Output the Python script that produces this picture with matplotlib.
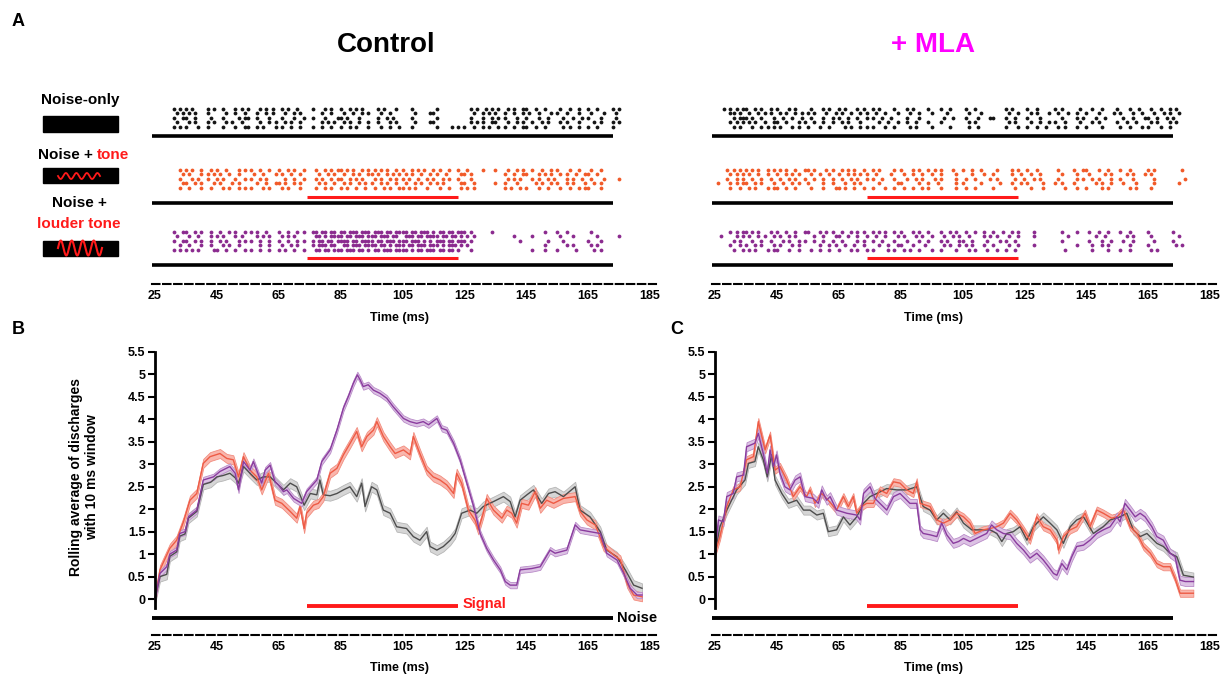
import numpy as np
import matplotlib.pyplot as plt
from matplotlib.patches import Rectangle

plt.rcParams['font.family'] = ['Liberation Sans', 'DejaVu Sans']
plt.rcParams['font.weight'] = 'bold'

# ---------------- data ----------------
time_ticks = [25, 45, 65, 85, 105, 125, 145, 165, 185]
rate_ticks = [0, 0.5, 1, 1.5, 2, 2.5, 3, 3.5, 4, 4.5, 5, 5.5]
rate_labels = ['0', '0.5', '1', '1.5', '2', '2.5', '3', '3.5', '4', '4.5', '5', '5.5']
signal_on, signal_off = 74, 123
noise_on, noise_off = 24, 173
raster_start = 25  # ms of the first character in each raster row (1 char = 1 ms)

# spike rasters, 5 trials each, 'x' = spike in that 1 ms bin
ctrl_noise = [
    "......x.x. x.x....x.x ..x...x.x. x...x.x.x. .x.x..x... .x...x.x.. x..x.x.x.. ..x.x...x. ...x...... .x........ ..x.x..x.x .x..x.x..x x..x..x... .x..x..x.. x..x....x. x.........",
    ".......x.x .x.x...x.. ...x..x..x ...x..x.x. ..x..x.x.. ....x..x.. .x..x..x.x ...x..x... ....x....x x......... ...x..x.x. x..x..x..x .x..x...x. x..x...x.. .x...x...x ..........",
    "......x..x x..x....x. ..x....x.x x..x...x.. .x...x..x. .x...x...x x.x...x... ..x..x.x.. ...x...... .x........ ..x...x..x .x.x...x.. x...x..x.. ..x..x..x. x...x....x ..........",
    ".......x.. .x.x...x.x ...x.x..x. ....x..x.x ..x.x..x.. ....x.x.x. .x.x..x..x ..x...x.x. ....x....x x......... ..x.x.x..x x...x..x.x ..x..x.x.. .x.x...x.. ..x.x...x. x.........",
    "......x.x. x...x..x.. ..x...x..x x..x.x...x .x..x..x.. .x..x..x.. x..x.x...x ...x..x..x ...x...... .x....x.x. x..x..x.x. .x.x..x..x x..x..x... ..x.x..x.. x..x....x. ..........",
]
ctrl_tone = [
    "........x. x.x..x..x. x..x...x.x .x..x..x.. x..x.x..x. ..x..x.x.x x.x.x..x.x .x.x.x..x. x..x.x.x.. x.x..x..x. .x....x... x...x..x.x ..x..x..x. x...x..x.. .x..x..... ..........",
    ".........x .x...x.x.x .x..x..x.. ..x..x...x .x..x..x.. ...x..x.x. .x..x.x..x x.x..x.x.x .x.x..x..x .x..x....x x.x....... ...x..x..x x...x.x.x. .x.x..x..x x..x...... ..........",
    "........x. ..x.x..x.. x.x...x..x .x..x.x... ..x..x..x. ..x.x..x.x x..x.x.x.. .x.x..x.x. x.x..x..x. x..x.x..x. ..x....... ....x.x.x. ..x.x..x.x ...x.x..x. .x...x.... x.........",
    ".........x x..x.x...x .x...x.x.. ...x..x..x x.x..x.x.. ...x.x..x. .x.x..x.x. x..x.x..x. .x..x.x..x .x.x.....x x..x...... x..x...x.. ...x.x..x. x..x.x...x ..x.x..... ..........",
    "........x. .x...x..x. ..x.x..x.x .x...x.x.. .x.x...x.. ..x..x.x.. x.x..x..x. .x..x.x..x x.x.x...x. ..x..x...x .x.x...... ...x.x..x. x...x..x.. .x..x..x.x x...x..... ..........",
]
ctrl_loud = [
    "......x..x x..x.x..x. .x..x.x..x .x.x..x... x..x..x.x. .xx.xx.xx. xx.xxx.xxx .xxx.xx.xx xx.xx.xxx. x.xx.xx.xx x.x......x .......... ......x... x..x...... .x........ ..........",
    ".......x.. .x..x...x. x.x...x.x. ...x.x.x.. .x.x.x.... ..xx.x.xxx x.xx.xxx.x xx.xxx.xx. .xxx.xx.xx xx.xx.xx.x .x.x...... ......x... ..x....... .x...x.... ...x...... x.........",
    "......x..x x..x.x..x. .x.x...x.x .x..x..x.. x..x..x.x. .x.xx.xx.x xxx.xx.xxx x.xx.xxx.x xx.xxx.x.x .xxx.xx.xx x.x....... ........x. .......x.. ..x....... x...x..... ..........",
    "........x. .x...x..x. ..x.x..x.. ....x..x.. .x..x.x... .x.xxx.xx. .xx.xxx.xx xx.xx.x.xx x.xx.xxx.x xx.x.xxx.x .x........ .......... ......x... ...x.x.... .x.x...... ..........",
    "......x.x. x.x.x....x x..x..x..x .x..x..x.. x.x..x..x. ..xx.xx.xx x.xxx.xx.x .xx.xxx.xx xx.x.xx.xx x.xx.xx.x. ..x....... .......... ..x...x... x.....x... ..x.x..... ..........",
]
mla_noise = [
    "...x.x.x.x x..x.x..x. x...x.x... .x...x.x.. x.x...x.x. .x.x....x. ..x.x....x ...x..x... .x..x..... ....x.x... .x..x..... x.x.....x. ..x..x.... x...x..x.. .x..x..x.x ..........",
    ".....xx.x. .x..x.x.x. .x.x..x.x. x.x...x..x .x..x..x.x ..x..x...x ...x..x... x....x.... ..x...x... .....x..x. ..x.x...x. .x..x..x.. x...x....x .x...x..x. ..x..x.x.. x.........",
    "......x.xx x.x..x...x ..x..x..x. .x...x..x. x..x..x..x .x..x..x.. ..x...x... ....x..x.. .x...x...x x...x..x.. .x...x.... ..x....x.x ...x..x... ..x..x...x x..x..x.x. ..........",
    ".....x.x.x .x.x..x..x x..x...x.x ..x..x..x. .x.x...x.. ...x..x..x ..x..x...x ...x...... ..x.x..... .....x.x.. ..x..x..x. x..x....x. ..x.x..... x..x..x... .x.x...x.x ..........",
    "......x.x. ..x..x.x.x .x...x.x.. x...x..x.. ..x.x..x.x .x...x..x. ...x.x.... x.....x... ..x..x.... ....x...x. .x..x..x.. .x.x...x.. x....x.... .x..x...x. x...x..x.. ..........",
]
mla_tone = [
    "....x.x.x. x.x.x..x.x .x.x..x..x x.x...x.x. .x.x.x..x. .x.x....x. x...x.x..x .x.x...x.. x..x..x... .x....x.x. .x..x..... .x....x..x x...x..x.. .x..x..... x.x....... .x........",
    ".....x.x.x .x..x..x.. x..x.x.x.. .x..x..x.. x..x.x.x.x ..x....x.. .x..x..x.. x..x....x. ...x...x.. x.....x..x ..x..x.... ..x....x.. .x....x.x. ...x.x...x .x........ ..........",
    "....x..x.x ..x..x..x. .x..x.x..x ..x..x..x. .x..x.x..x .x..x...x. ..x..x.x.. .x.x....x. .x..x....x .x.....x.. x..x.x.... .x.....x.x ..x.x...x. .x...x.... ..x....... ..x.......",
    ".x...x.x.x x..x.x...x ..x..x.x.. x....x..x. ..x..x.x.. ...x.....x x.....x..x ..x.....x. x.....x... ..x...x..x .x....x... x.x...x... ...x.x..x. ..x...x... ..x....... x.........",
    ".....x..x. .x.x...x.x x..x..x... .x...x...x x.x..x..x. .x...x..x. .x..x..x.x ...x....x. .x..x..... x......x.. ..x...x... ...x...x.. x....x.x.. ....x.x... .x........ ..........",
]
mla_loud = [
    ".....x.x.x x.x.x...x. x..x..x..x x...x.x.x. .x..x.x.x. .x.x.x..x. x...x.x..x ...x..x.x. .x..x..x.. x..x..x.x. ...x...... ..x....x.. .x..x..x.. .x..x..... x.......x. ..........",
    "..x....x.x .x..x.x..x .x..x.x... ..x..x...x x..x..x..x ..x..x...x .x...x.x.. x...x..x.x ..x....x.x .x...x..x. ...x...... ....x..... ...x..x... ...x.x.... .x........ x.........",
    "......x.x. ..x..x..x. ..x.x..x.x ..x..x..x. .x....x.x. .x..x...x. ..x...x..x ...x.x...x x..x....x. ..x.x..x.. .......... ..x....... .x...x..x. ..x..x.... ..x.....x. ..........",
    ".....x..x. x..x.x...x .x...x.x.. ....x..x.x ..x..x..x. ...x..x..x x...x...x. ....x.x..x .x.x...x.. x....x..x. ...x...... .......x.. ..x..x.x.. ....x..... x........x .x........",
    "......x..x .x.x...x.x x...x..x.. .x..x..x.. x...x.x..x .x....x.x. .x.x..x... x..x....x. ..x.x...x. .x..x..x.. .......... ...x...... ..x....x.. .x..x..... .x.x...... ..........",
]

# rolling-average curves (time in ms, discharges per 10 ms window) and band half-widths
b_noise_t = [25, 26.6, 28.8, 29.8, 32, 33, 34.7, 35.8, 38.5, 40.6, 43, 45, 47, 49.2, 50.9, 52, 53.6, 55.7, 57.9, 60,
             62.2, 64, 66.5, 68.7, 70.8, 73.2, 75.2, 77.3, 78.3, 79.4, 81.6, 83.8, 85.9, 88, 90.2, 91.8, 92.9, 95, 96.7, 98.8,
             101, 103.1, 106.3, 108.5, 110.6, 112.8, 113.9, 116.1, 118.2, 120.4, 122, 124.1, 126.8, 129, 131.1, 134.4, 137.6,
             139.8, 141.4, 143, 145.2, 147.3, 150, 152.2, 154.3, 157, 160.8, 162.4, 165.6, 168.9, 171, 174.3, 177, 179.7, 182.4]
b_noise_v = [0, 0.5, 0.55, 0.95, 1.05, 1.4, 1.45, 1.8, 1.95, 2.55, 2.6, 2.72, 2.75, 2.8, 2.7, 2.58, 2.95, 2.8, 2.65, 2.72,
             2.72, 2.6, 2.43, 2.58, 2.5, 2.09, 2.35, 2.32, 2.65, 2.32, 2.3, 2.35, 2.43, 2.5, 2.28, 2.58, 2.06, 2.5, 2.43, 1.98,
             1.91, 1.61, 1.57, 1.39, 1.31, 1.5, 1.17, 1.09, 1.17, 1.31, 1.46, 1.91, 1.98, 1.91, 2.06, 2.17, 2.28,
             2.17, 1.83, 2.2, 2.32, 2.43, 2.13, 2.35, 2.39, 2.28, 2.5, 1.98, 1.83, 1.5, 1.09, 0.94, 0.65, 0.31, 0.24]
b_tone_t = [25, 26.6, 29.8, 32, 34.2, 36.3, 38.5, 40.6, 42.8, 46, 48.2, 50.3, 52, 53.6, 55.7, 57.9, 59.5, 61.7, 63.8, 66,
            68.7, 70.8, 71.9, 73.2, 74, 76.2, 77.8, 79.4, 81.6, 83.8, 85.9, 88.1, 90.2, 91.8, 93.5, 95.6, 96.7, 98.8, 101,
            102.6, 105.3, 107.4, 108.5, 110.6, 112.8, 114.9, 117.1, 119.3, 121.5, 122.5, 124.1, 126.3, 128.4, 129.5, 131.1,
            132.2, 134.4, 137.1, 138.7, 140.3, 141.9, 143.5, 145.7, 147.9, 149.5, 151.6, 153.8, 157, 160.8, 162.4, 164.6,
            167.3, 170, 173.2, 175.4, 177.6, 179.7, 182.4]
b_tone_v = [0, 0.65, 1.13, 1.31, 1.72, 2.2, 2.35, 3.02, 3.17, 3.24, 3.13, 3.1, 2.72, 3.17, 2.87, 2.72, 2.43, 2.8, 2.2, 2.13,
            1.95, 1.8, 2.06, 1.57, 1.91, 2.09, 2.13, 2.28, 2.8, 2.91, 3.21, 3.47, 3.73, 3.39, 3.62, 3.76, 3.95, 3.62, 3.39,
            3.24, 3.32, 3.21, 3.62, 3.24, 2.87, 2.72, 2.65, 2.54, 2.35, 2.8, 2.58, 1.98, 1.76, 1.54, 1.91,
            2.24, 1.98, 1.8, 1.98, 1.91, 1.69, 2.13, 2.09, 2.39, 2.02, 2.2, 2.13, 2.24, 2.28, 1.95, 1.76,
            1.65, 1.17, 0.98, 0.87, 0.35, 0.09, 0.05]
b_loud_t = [25, 26.6, 28.8, 29.8, 32, 33, 34.7, 35.8, 38.5, 40.6, 43.9, 46, 49.2, 50.9, 52, 53.6, 55.7, 56.8, 59.5, 60.6,
            62.2, 63.8, 64.9, 66.5, 67.6, 69.8, 72.4, 74, 77.3, 78.9, 81.6, 83.8, 85.9, 87.5, 89.1, 90.4, 91.3, 92.3, 93.9,
            95.6, 97.7, 99.9, 102, 105.3, 107.4, 109.6, 111.7, 113.4, 116.1, 117.7, 119.3, 121.5, 123.6, 125.8, 128, 130.1,
            132.2, 134.4, 136.6, 138.2, 139.8, 141.9, 143, 146.8, 149.5, 152.7, 154.3, 158.1, 160.8, 162.4, 165.6, 168.9,
            171, 174.3, 176.5, 178.6, 180.8, 182.4]
b_loud_v = [0, 0.57, 0.72, 1.0, 1.09, 1.46, 1.5, 1.83, 1.98, 2.65, 2.72, 2.84, 2.95, 2.8, 2.43, 3.06, 2.87, 3.06, 2.58, 2.87,
            2.98, 2.61, 2.54, 2.39, 2.43, 2.24, 2.13, 2.39, 2.65, 3.06, 3.32, 3.76, 4.25, 4.51, 4.8, 4.99, 4.88, 4.73, 4.77,
            4.65, 4.58, 4.47, 4.28, 4.02, 3.95, 3.91, 3.95, 3.88, 4.02, 3.8, 3.76, 3.47, 3.1, 2.58, 2.06, 1.46,
            1.13, 0.87, 0.65, 0.39, 0.31, 0.31, 0.65, 0.68, 0.72, 1.09, 1.02, 1.09, 1.65, 1.54, 1.5, 1.46,
            1.02, 0.87, 0.57, 0.24, 0.09, 0.09]
b_sem = [0.11, 0.1, 0.07]

c_noise_t = [25, 26.6, 28.8, 32, 34.7, 35.8, 37.9, 39, 40.6, 41.9, 43.3, 44.4, 46.6, 48.7, 51.4, 53.6, 55.7, 57.9, 60, 61.6,
             64.3, 66.5, 68.6, 70.8, 73, 75.1, 77.3, 80.5, 83.7, 87, 90.2, 92.3, 94.5, 96.7, 98.8, 101, 103.1, 105.3, 108,
             110.7, 113.9, 116.1, 117.7, 119.3, 121.4, 123.6, 125.8, 127.9, 131.1, 133.3, 135.5, 137.6, 139.8, 141.9, 144.1,
             147.3, 150.5, 152.7, 155.9, 158.1, 160.2, 162.4, 164.6, 167.8, 169.9, 172.1, 174.3, 176.4, 179.6]
c_noise_v = [1.02, 1.61, 1.98, 2.43, 2.65, 3.02, 3.06, 3.39, 3.1, 2.72, 3.21, 2.65, 2.35, 2.13, 2.2, 1.98, 1.98, 1.87, 1.91, 1.5,
             1.54, 1.83, 1.65, 1.83, 2.13, 2.28, 2.35, 2.46, 2.43, 2.43, 2.5, 2.06, 1.98, 1.76, 1.91, 1.76, 1.94, 1.69, 1.54,
             1.54, 1.54, 1.46, 1.28, 1.46, 1.5, 1.61, 1.31, 1.61, 1.83, 1.69, 1.54, 1.24, 1.61, 1.76, 1.83,
             1.46, 1.61, 1.76, 1.83, 1.91, 1.54, 1.39, 1.46, 1.24, 1.17, 1.02, 0.94, 0.53, 0.49]
c_tone_t = [25, 26.6, 28.8, 30.9, 33.1, 35.2, 37.4, 39, 41.2, 42.8, 44.4, 46, 48.2, 50.3, 52.5, 54.6, 55.7, 57.3, 59.5, 61.6,
            64.3, 66.5, 68.1, 69.7, 70.8, 72.4, 74, 76.2, 78.3, 80.5, 82.7, 84.8, 87, 89.1, 90.2, 91.3, 94.5, 96.7, 98.8, 101,
            103.1, 105.3, 107.4, 109.1, 111.7, 113.9, 116.1, 118.2, 120.4, 122.5, 124.7, 126.8, 129, 131.1, 133.3, 135.5,
            136, 137.6, 139.8, 141.9, 144.6, 146.2, 148.4, 150.5, 153.2, 154.9, 157, 159.2, 161.4, 163.5, 165.7, 167.8,
            169.9, 172.1, 173.7, 175.3, 179.6]
c_tone_v = [1.02, 1.39, 2.06, 2.43, 2.5, 3.1, 3.17, 3.95, 3.32, 3.65, 2.87, 2.95, 2.65, 2.28, 2.5, 2.28, 2.43, 2.13, 2.35, 2.2,
            1.98, 2.28, 2.06, 2.28, 1.91, 2.06, 2.13, 2.13, 2.43, 2.35, 2.61, 2.58, 2.43, 2.35, 2.61, 2.13, 2.06, 1.76, 1.69,
            1.76, 1.91, 1.83, 1.69, 1.46, 1.54, 1.57, 1.61, 1.69, 1.91, 1.76, 1.54, 1.31, 1.83, 1.61, 1.54, 1.31,
            1.09, 1.39, 1.54, 1.61, 1.91, 1.61, 1.98, 1.91, 1.8, 1.83, 1.98, 1.61, 1.46, 1.17, 1.02, 0.79,
            0.72, 0.72, 0.46, 0.13, 0.13]
c_loud_t = [25, 26.1, 27.7, 28.8, 30.9, 32, 34.2, 35.2, 37.9, 39, 40.6, 41.9, 42.8, 43.9, 44.9, 46, 47.6, 49.2, 50.9, 52.5,
            54.1, 56.8, 58.4, 59.5, 61.1, 62.2, 64.3, 67.6, 70.8, 71.9, 73, 75.1, 76.7, 78.3, 80.5, 82.7, 84.8, 88, 90.2,
            91.3, 92.3, 94.5, 96.7, 98.3, 99.9, 102, 103.7, 105.3, 107.4, 110.7, 112.8, 114.4, 116.1, 118.2, 120.4, 122.5,
            124.7, 126.8, 129, 131.1, 132.8, 134.4, 135.5, 137.1, 138.7, 140.3, 141.9, 144.1, 146.2, 148.4, 150.5, 152.7,
            154.9, 155.9, 157.5, 159.2, 160.8, 162.4, 164, 166.2, 167.8, 169.9, 172.1, 173.7, 175.3, 177, 179.6]
c_loud_v = [1.02, 1.76, 1.72, 2.28, 2.35, 2.72, 2.76, 3.39, 3.47, 3.69, 3.24, 2.8, 3.32, 2.95, 3.21, 2.8, 2.5, 2.43, 2.65, 2.72,
            2.28, 2.24, 2.13, 2.43, 2.2, 2.28, 1.98, 1.91, 1.87, 1.76, 2.35, 2.5, 2.24, 2.13, 1.98, 2.28, 2.35, 2.13, 2.13,
            1.54, 1.46, 1.43, 1.39, 1.69, 1.43, 1.24, 1.28, 1.35, 1.28, 1.39, 1.46, 1.65, 1.54, 1.46, 1.43, 1.24,
            1.09, 0.91, 1.02, 0.87, 0.72, 0.57, 0.53, 0.79, 0.65, 0.94, 1.17, 1.2, 1.31, 1.46, 1.54, 1.61,
            1.83, 1.72, 2.13, 1.98, 1.83, 1.91, 1.83, 1.61, 1.39, 1.31, 1.02, 0.94, 0.42, 0.39, 0.39]
c_sem = [0.1, 0.08, 0.1]

# ---------------- styles ----------------
raster_colors = ['#151515', '#f15a29', '#8b2b8f']
line_colors = ['#4d4d4d', '#ee5b45', '#8a3c9e']
band_colors = ['#d6d6d6', '#f9b6ad', '#dcc2e4']
band_edges = ['#b5b5b5', '#f28c7e', '#b98bc8']
red = '#ff1a1a'

W, H = 1228, 679
PPM = 3.094  # pixels per ms

fig = plt.figure(figsize=(W / 100, H / 100), dpi=100)
over = fig.add_axes([0, 0, 1, 1])
over.set_xlim(0, W)
over.set_ylim(H, 0)
over.axis('off')


def px_axes(l, t, r, b):
    ax = fig.add_axes([l / W, 1 - b / H, (r - l) / W, (b - t) / H])
    ax.patch.set_alpha(0)
    return ax


def time_axes(x0, top, bottom):
    ax = px_axes(x0 - 3, top, x0 + 501, bottom)
    ax.set_xlim(25 - 3 / PPM, 25 + 501 / PPM)
    for s in ['top', 'right', 'left']:
        ax.spines[s].set_visible(False)
    ax.spines['bottom'].set_linewidth(1.5)
    ax.spines['bottom'].set_linestyle((0, (3.6, 1.7)))
    ax.set_xticks(time_ticks)
    ax.set_xticklabels([str(t) for t in time_ticks])
    ax.tick_params(axis='x', length=0, pad=4.5, labelsize=9)
    return ax


def spikes(rows):
    ts, ks = [], []
    for k, row in enumerate(rows):
        line = ''.join(g.ljust(10, '.')[:10] for g in row.split())
        for i, c in enumerate(line):
            if c == 'x':
                ts.append(raster_start + i)
                ks.append(k)
    return np.array(ts), np.array(ks)


# ---------------- panel A: rasters ----------------
row_tops = [109, 170, 232]
black_bar_y = [136, 203, 265]
red_bar_y = [197, 258]

for x0, grids, tx in [(155, [ctrl_noise, ctrl_tone, ctrl_loud], 400),
                      (715, [mla_noise, mla_tone, mla_loud], 933)]:
    ax = time_axes(x0, 95, 284)
    ax.set_ylim(284, 95)
    ax.set_yticks([])
    for top, grid, col in zip(row_tops, grids, raster_colors):
        t, k = spikes(grid)
        ax.scatter(t, top + 4.4 * k, s=7.5, color=col, linewidths=0)
    for yb in black_bar_y:
        ax.plot([noise_on, noise_off], [yb, yb], color='black', lw=2.6, solid_capstyle='butt')
    for yr in red_bar_y:
        ax.plot([signal_on, signal_off], [yr, yr], color=red, lw=2.2, solid_capstyle='butt')
    over.text(tx, 318, 'Time (ms)', ha='center', va='center', fontsize=9)

over.text(386, 45, 'Control', ha='center', va='center', fontsize=20)
over.text(933, 45, '+ MLA', ha='center', va='center', fontsize=20, color='#ff00ff')

# stimulus icons
over.text(80, 100, 'Noise-only', ha='center', va='center', fontsize=11)
over.add_patch(Rectangle((43, 116), 75, 16, color='black'))
over.text(93, 155, 'Noise +', ha='right', va='center', fontsize=11)
over.text(97, 155, 'tone', ha='left', va='center', fontsize=11, color=red)
over.add_patch(Rectangle((43, 168), 75, 15, color='black'))
wx = np.linspace(58, 100, 200)
over.plot(wx, 176 + 3 * np.sin((wx - 58) / 42 * 8 * np.pi), color=red, lw=1.3)
over.text(79, 203, 'Noise +', ha='center', va='center', fontsize=11)
over.text(79, 224, 'louder tone', ha='center', va='center', fontsize=11, color=red)
over.add_patch(Rectangle((43, 241), 75, 15, color='black'))
wx = np.linspace(58, 102, 200)
over.plot(wx, 248 - 7.5 * np.sin((wx - 58) / 44 * 8 * np.pi), color=red, lw=1.5)

over.text(12, 22, 'A', ha='left', va='center', fontsize=13)
over.text(12, 330, 'B', ha='left', va='center', fontsize=13)
over.text(670, 330, 'C', ha='left', va='center', fontsize=13)

# ---------------- panels B and C: rolling averages ----------------
panels = [
    (155, [(b_noise_t, b_noise_v), (b_tone_t, b_tone_v), (b_loud_t, b_loud_v)], b_sem, 400),
    (715, [(c_noise_t, c_noise_v), (c_tone_t, c_tone_v), (c_loud_t, c_loud_v)], c_sem, 933),
]
for x0, curves, sems, tx in panels:
    ax = time_axes(x0, 345, 635)
    ax.set_ylim(-0.8, 5.655)
    ax.spines['left'].set_visible(True)
    ax.spines['left'].set_position(('data', 25))
    ax.spines['left'].set_bounds(-0.2, 5.5)
    ax.spines['left'].set_linewidth(2)
    ax.set_yticks(rate_ticks)
    ax.set_yticklabels(rate_labels)
    ax.tick_params(axis='y', length=5, width=1.5, pad=2, labelsize=9)
    for (t, v), sem, lc, fc, ec in zip(curves, sems, line_colors, band_colors, band_edges):
        t = np.array(t)
        v = np.array(v)
        ax.fill_between(t, v - sem, v + sem, facecolor=fc, edgecolor=ec, lw=0.6)
        ax.plot(t, v, color=lc, lw=1.0)
    ax.plot([signal_on, signal_off], [-0.156, -0.156], color=red, lw=2.8, solid_capstyle='butt')
    ax.plot([noise_on, noise_off], [-0.423, -0.423], color='black', lw=2.8, solid_capstyle='butt')
    over.text(tx, 668, 'Time (ms)', ha='center', va='center', fontsize=9)

over.text(463, 604, 'Signal', ha='left', va='center', fontsize=10.5, color=red)
over.text(617, 618, 'Noise', ha='left', va='center', fontsize=10.5)
over.text(84, 477, 'Rolling average of discharges\nwith 10 ms window', ha='center', va='center',
          rotation=90, fontsize=10, linespacing=1.15)

fig.savefig('out.png', dpi=100)
